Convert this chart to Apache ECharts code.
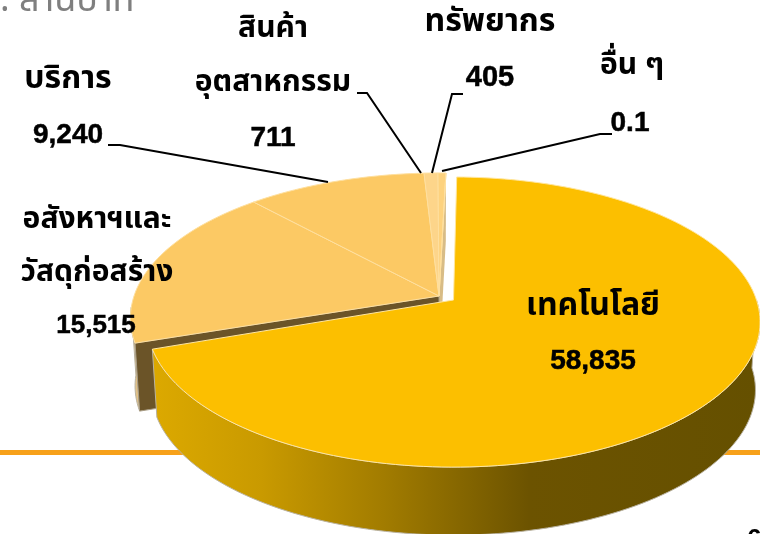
<!DOCTYPE html>
<html><head><meta charset="utf-8">
<style>html,body{margin:0;padding:0;background:#fff;overflow:hidden}#c{width:760px;height:534px}</style>
<script src="https://cdn.jsdelivr.net/npm/echarts@6/dist/echarts.min.js"></script>
</head><body><div id="c"></div>
<script>
const categories = ['เทคโนโลยี','อสังหาฯและ\nวัสดุก่อสร้าง','บริการ','สินค้า\nอุตสาหกรรม','ทรัพยากร','อื่น ๆ'];
const values = [58835, 15515, 9240, 711, 405, 0.1];
const unitText = ': ล้านบาท';
const pageText = '6';

const colors = ['#FCBF00','#FCC964','#FCC964','#FDD58A','#FDD27E','#FDE2B0'];
const thaiFont = '"Noto Sans Thai","Noto Sans Thai Looped","Noto Sans","DejaVu Sans",sans-serif';
const numFont = '"Liberation Sans",Arial,sans-serif';
// geometry of the tilted disc
const B = 141.7, K = 0.152, DEPTH = 68, SHRINK = 0.985;
const techDisc = {apex:[453.5,300], A:303, start:0.7};
const restDisc = {apex:[439,296], A:305, start:1.5};
const labelLayout = [
  {x:593, ys:[309], ny:361, size:32, nsize:28},
  {x:97, ys:[222,275], ny:326, nx:96, size:30, nsize:26},
  {x:68, ys:[82], ny:135, size:32, nsize:28},
  {x:273, ys:[31,85], ny:138, size:30, nsize:28},
  {x:490, ys:[25], ny:78, size:32, nsize:29},
  {x:632, ys:[68], ny:123, nx:630, size:30, nsize:28}
];
const leaders = [
  null, null,
  [[108,145],[120,145],[328,182]],
  [[357,93],[367,93],[421,173]],
  [[463,94],[452,94],[432,173]],
  [[612,134],[600,134],[442,171]]
];
const total = values.reduce((a,b)=>a+b,0);
function rim(d, deg){
  const t = deg*Math.PI/180, u = Math.sin(t), v = -Math.cos(t), w = 1/(1-K*v);
  return [d.apex[0]+d.A*u*w, d.apex[1]+B*v*w];
}
function arc(d, a0, a1){
  const n = Math.max(2, Math.ceil((a1-a0)/1.5)), pts=[];
  for(let i=0;i<=n;i++) pts.push(rim(d, a0+(a1-a0)*i/n));
  return pts;
}
function lower(d,p){ return [d.apex[0]+(p[0]-d.apex[0])*SHRINK, p[1]+DEPTH]; }
function fmt(v){ return v>=1000 ? String(v).replace(/\B(?=(\d{3})+$)/g,',') : String(v); }

function renderSlice(params, api){
  const i = params.dataIndex, val = api.value(0);
  let before = 0; for(let k=0;k<i;k++) before += values[k];
  const d = i===0 ? techDisc : restDisc;
  const a0 = d.start + before/total*360, a1 = a0 + val/total*360;
  const apex = d.apex;
  const children = [];
  const top = arc(d,a0,a1);
  if(i===0){
    const vis = arc(d,90,a1);
    const wall = vis.concat(vis.map(p=>lower(d,p)).reverse());
    children.push({type:'polygon',z2:20,shape:{points:wall},style:{
      fill:new echarts.graphic.LinearGradient(0,0,1,0,[
        {offset:0,color:'#DCA900'},{offset:0.18,color:'#C99A00'},{offset:0.38,color:'#A27C00'},
        {offset:0.62,color:'#6C5300'},{offset:1,color:'#655000'}]),
      stroke:'#B9B2A0',lineWidth:1}});
    children.push({type:'polygon',z2:22,shape:{points:[apex].concat(top)},style:{fill:colors[0],stroke:'#FFE6A0',lineWidth:1}});
  } else {
    children.push({type:'polygon',z2:5,shape:{points:[apex].concat(top)},style:{fill:colors[i],stroke:'#FEDF9E',lineWidth:1}});
    if(i===1){
      const p = top[0];
      const side = arc(d,a0,a0+14);
      children.unshift({type:'polygon',z2:1,shape:{points:side.concat(side.map(q=>lower(d,q)).reverse())},
        style:{fill:'#E2C288',stroke:'#B9B2A0',lineWidth:1}});
      children.unshift({type:'polygon',z2:2,shape:{points:[apex,p,lower(d,p),lower(d,apex)]},
        style:{fill:'#6B5428',stroke:'#A89C84',lineWidth:1}});
    }
    if(i===5){
      const p = rim(d,a1);
      children.unshift({type:'polygon',z2:1,shape:{points:[apex,p,lower(d,p),lower(d,apex)]},
        style:{fill:'#D8BC86'}});
    }
  }
  if(leaders[i]) children.push({type:'polyline',z2:30,shape:{points:leaders[i]},style:{fill:null,stroke:'#000',lineWidth:2}});
  const L = labelLayout[i];
  categories[i].split('\n').forEach((t,k)=>children.push({type:'text',z2:40,x:L.x,y:L.ys[k],
    style:{text:t,font:'bold '+L.size+'px '+thaiFont,fill:'#000',align:'center',verticalAlign:'middle'}}));
  children.push({type:'text',z2:40,x:L.nx||L.x,y:L.ny,
    style:{text:fmt(val),font:'bold '+L.nsize+'px '+numFont,fill:'#000',stroke:'#000',lineWidth:0.5,align:'center',verticalAlign:'middle'}});
  return {type:'group',children};
}
const chart = echarts.init(document.getElementById('c'),null,{renderer:'canvas'});
chart.setOption({
  animation:false,
  graphic:[
    {type:'rect',z:-1,shape:{x:0,y:450,width:760,height:5},style:{fill:'#F7A11A'},silent:true},
    {type:'text',z:-1,x:0,y:22,style:{text:unitText,font:'36px '+thaiFont,fill:'#7F7F7F',verticalAlign:'bottom'},silent:true},
    {type:'text',z:50,x:747,y:527,style:{text:pageText,font:'bold 26px '+numFont,fill:'#000',verticalAlign:'top'},silent:true}
  ],
  series:[{type:'custom',coordinateSystem:'none',silent:true,renderItem:renderSlice,
    data:values.map((v,i)=>({value:[v],name:categories[i]}))}]
});
</script></body></html>
